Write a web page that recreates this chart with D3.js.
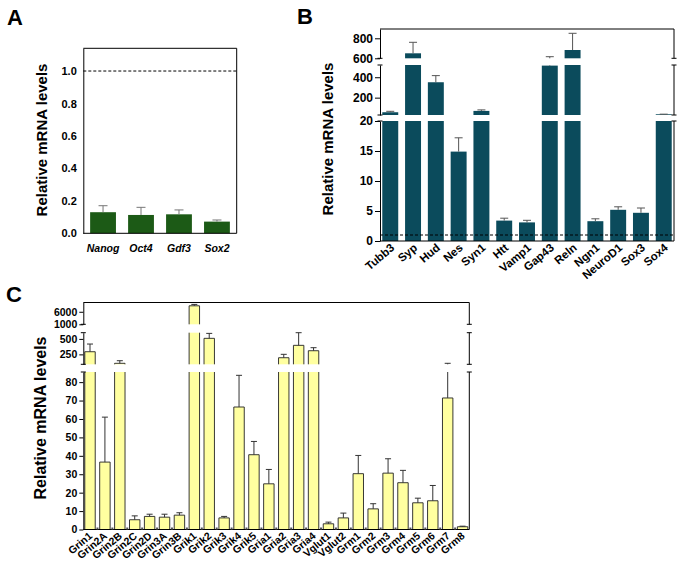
<!DOCTYPE html>
<html><head><meta charset="utf-8">
<script src="https://cdn.jsdelivr.net/npm/d3@7/dist/d3.min.js"></script>
<style>body{margin:0;background:#fff}svg{display:block}text{font-family:"Liberation Sans",Arial,sans-serif}</style>
</head><body><svg id="c" width="683" height="575"></svg>
<script>
// ---------- Panel A data ----------
const aCategories = ["Nanog", "Oct4", "Gdf3", "Sox2"];
const aValues = [0.13, 0.113, 0.117, 0.072];
const aErrors = [0.04, 0.047, 0.027, 0.010];
const aTicks = [0, 0.2, 0.4, 0.6, 0.8, 1.0];

// ---------- Panel B data ----------
const bCategories = ["Tubb3", "Syp", "Hud", "Nes", "Syn1", "Htt", "Vamp1", "Gap43", "Reln", "Ngn1", "NeuroD1", "Sox3", "Sox4"];
const bValues = [57, 650, 351, 14.9, 70, 3.4, 3.1, 514, 683, 3.3, 5.2, 4.7, 37];
const bErrors = [9, 110, 65, 2.3, 10, 0.4, 0.35, 102, 167, 0.4, 0.5, 0.8, 1];
const bTicksTop = [600, 800];
const bTicksMid = [200, 400];
const bTicksLow = [0, 5, 10, 15, 20];

// ---------- Panel C data ----------
const cCategories = ["Grin1", "Grin2A", "Grin2B", "Grin2C", "Grin2D", "Grin3A", "Grin3B", "Grik1", "Grik2", "Grik3", "Grik4", "Grik5", "Gria1", "Gria2", "Gria3", "Gria4", "Vglut1", "Vglut2", "Grm1", "Grm2", "Grm3", "Grm4", "Grm5", "Grm6", "Grm7", "Grm8"];
const cValues = [293, 36.6, 106, 5.3, 7.1, 6.7, 7.8, 8380, 509, 6.3, 66.5, 40.6, 24.8, 196, 396, 309, 3.1, 6.3, 30.3, 11.2, 30.6, 25.4, 14.5, 15.6, 71.4, 1.5];
const cErrors = [124, 24.4, 42, 2.1, 1.2, 1.6, 1.3, 560, 80, 0.8, 17.2, 7.2, 7.8, 55, 204, 49, 0.9, 2.6, 9.9, 2.8, 7.8, 6.7, 2.5, 8.3, 34.6, 0.3];
const cTicksTop = [1000, 6000];
const cTicksMid = [250, 500];
const cTicksLow = [0, 10, 20, 30, 40, 50, 60, 70, 80];

const svg = d3.select("#c");

function panel(o) {
  const g = svg.append("g");
  const x = d3.scaleBand().domain(o.cats).range([o.x0, o.x1]).paddingInner(o.pi).paddingOuter(o.po);
  const segs = o.segs.map(s => Object.assign({}, s, {y: d3.scaleLinear().domain(s.domain).range(s.range)}));
  const w = x.bandwidth();
  const low = segs[segs.length - 1];
  const top = segs[0];

  o.cats.forEach((c, i) => {
    const v = o.vals[i], e = v + o.errs[i];
    const xl = x(c), xc = xl + w / 2;
    segs.forEach(s => {
      const [d0, d1] = s.domain;
      if (v <= d0) return;
      const t = Math.min(v, d1);
      const yb = s.y(d0), yt = s.y(t);
      g.append("rect").attr("x", xl).attr("y", yt).attr("width", w).attr("height", yb - yt)
        .attr("fill", o.fill);
      if (o.stroke) {
        const p = v <= d1
          ? `M${xl},${yb}V${yt}H${xl + w}V${yb}`
          : `M${xl},${yb}V${yt}M${xl + w},${yt}V${yb}`;
        g.append("path").attr("d", p).attr("fill", "none").attr("stroke", o.stroke).attr("stroke-width", 0.9);
      }
    });
    segs.forEach(s => {
      const [d0, d1] = s.domain;
      const lo = Math.max(v, d0), hi = Math.min(e, d1);
      if (hi <= lo) return;
      g.append("line").attr("x1", xc).attr("x2", xc).attr("y1", s.y(lo)).attr("y2", s.y(hi))
        .attr("stroke", o.errColor).attr("stroke-width", 1);
      if (e >= d0 && e <= d1) {
        g.append("line").attr("x1", xc - o.cap / 2).attr("x2", xc + o.cap / 2)
          .attr("y1", s.y(e)).attr("y2", s.y(e)).attr("stroke", o.errColor).attr("stroke-width", 1);
      }
    });
  });

  if (o.dash) {
    g.append("line").attr("x1", o.x0).attr("x2", o.x1).attr("y1", low.y(1)).attr("y2", low.y(1))
      .attr("stroke", "#000").attr("stroke-width", 1).attr("stroke-dasharray", "3,2");
  }

  // axes per segment
  segs.forEach((s, k) => {
    const ax = g.append("g").attr("transform", `translate(${o.x0},0)`)
      .call(d3.axisLeft(s.y).tickValues(s.ticks).tickSize(o.tickSize).tickSizeOuter(0).tickPadding(o.tickPad)
        .tickFormat(o.fmt));
    ax.select(".domain").attr("stroke", "#000").attr("stroke-width", 1);
    ax.selectAll(".tick line").attr("stroke", "#000");
    ax.selectAll("text").attr("font-size", o.tickFont).attr("font-weight", "bold").attr("fill", "#000")
      .style("font-family", '"Liberation Sans",Arial,sans-serif');
    g.append("line").attr("x1", o.x1).attr("x2", o.x1).attr("y1", s.range[0]).attr("y2", s.range[1])
      .attr("stroke", "#000").attr("stroke-width", 1);
    if (segs.length > 1) {
      [o.x0, o.x1].forEach(xx => {
        if (k > 0) g.append("line").attr("x1", xx - 2.5).attr("x2", xx + 2.5).attr("y1", s.range[1]).attr("y2", s.range[1]).attr("stroke", "#000");
        if (k < segs.length - 1) g.append("line").attr("x1", xx - 2.5).attr("x2", xx + 2.5).attr("y1", s.range[0]).attr("y2", s.range[0]).attr("stroke", "#000");
      });
    }
  });
  // top and bottom lines
  g.append("line").attr("x1", o.x0).attr("x2", o.x1).attr("y1", top.range[1]).attr("y2", top.range[1]).attr("stroke", "#000");
  g.append("line").attr("x1", o.x0).attr("x2", o.x1).attr("y1", low.range[0]).attr("y2", low.range[0]).attr("stroke", "#000");

  if (o.baseTicks) {
    const step = x.step();
    o.cats.forEach((c, i) => {
      if (i === 0) return;
      const xx = x(c) - step * o.pi / 2;
      g.append("rect").attr("x", xx - 1).attr("y", low.range[0] - 2).attr("width", 2).attr("height", 2).attr("fill", "#555");
    });
  }

  // x labels
  o.cats.forEach(c => {
    const xc = x(c) + w / 2;
    const t = g.append("text").text(c).attr("font-size", o.xFont).attr("font-weight", "bold").attr("fill", "#000");
    if (o.rot) {
      t.attr("text-anchor", "end").attr("transform", `translate(${xc + o.lblDx},${o.lblY}) rotate(${o.rot})`);
    } else {
      t.attr("text-anchor", "middle").attr("x", xc).attr("y", o.lblY).attr("font-style", "italic");
    }
  });

  // y title
  g.append("text").text("Relative mRNA levels").attr("font-size", o.titleFont).attr("font-weight", "bold")
    .attr("text-anchor", "middle").attr("dominant-baseline", "central")
    .attr("transform", `translate(${o.titleX},${o.titleY}) rotate(-90)`);
  // panel letter
  g.append("text").text(o.letter).attr("x", o.letterX).attr("y", o.letterY).attr("font-size", 22).attr("font-weight", "bold");
}

panel({
  cats: aCategories, vals: aValues, errs: aErrors, fill: "#1c5a16", errColor: "#777", cap: 9,
  x0: 83.3, x1: 236.7, pi: 0.32, po: 0.18,
  segs: [{domain: [0, 1.14], range: [233.3, 48.3], ticks: aTicks}],
  fmt: d3.format(".1f"), tickSize: 0, tickPad: 6.5, tickFont: 11,
  dash: true, xFont: 10.5, lblY: 252,
  titleFont: 15, titleX: 41, titleY: 140, letter: "A", letterX: 7, letterY: 25
});

panel({
  cats: bCategories, vals: bValues, errs: bErrors, fill: "#0b4b5c", errColor: "#555", cap: 8,
  x0: 380, x1: 674, pi: 0.3, po: 0.1,
  segs: [
    {domain: [600, 893], range: [58.3, 29], ticks: bTicksTop},
    {domain: [30, 520], range: [115, 65], ticks: bTicksMid},
    {domain: [0, 20], range: [241, 121], ticks: bTicksLow}
  ],
  fmt: d3.format("d"), tickSize: 5, tickPad: 2, tickFont: 12,
  dash: true, xFont: 11.5, lblY: 249, lblDx: 5, rot: -40,
  titleFont: 15, titleX: 327, titleY: 139, letter: "B", letterX: 297, letterY: 24
});

panel({
  cats: cCategories, vals: cValues, errs: cErrors, fill: "#ffffa0", stroke: "#222", errColor: "#333", cap: 6,
  x0: 83.3, x1: 469.3, pi: 0.3, po: 0.1,
  segs: [
    {domain: [1000, 9700], range: [324.3, 302.5], ticks: cTicksTop},
    {domain: [90, 600], range: [364.3, 332.7], ticks: cTicksMid},
    {domain: [0, 85.5], range: [529.5, 372], ticks: cTicksLow}
  ],
  fmt: d3.format("d"), tickSize: 4, tickPad: 2, tickFont: 10.5,
  dash: false, baseTicks: true, xFont: 10.5, lblY: 537, lblDx: 3, rot: -40,
  titleFont: 16, titleX: 40, titleY: 418, letter: "C", letterX: 6, letterY: 302
});
</script>
</body></html>
